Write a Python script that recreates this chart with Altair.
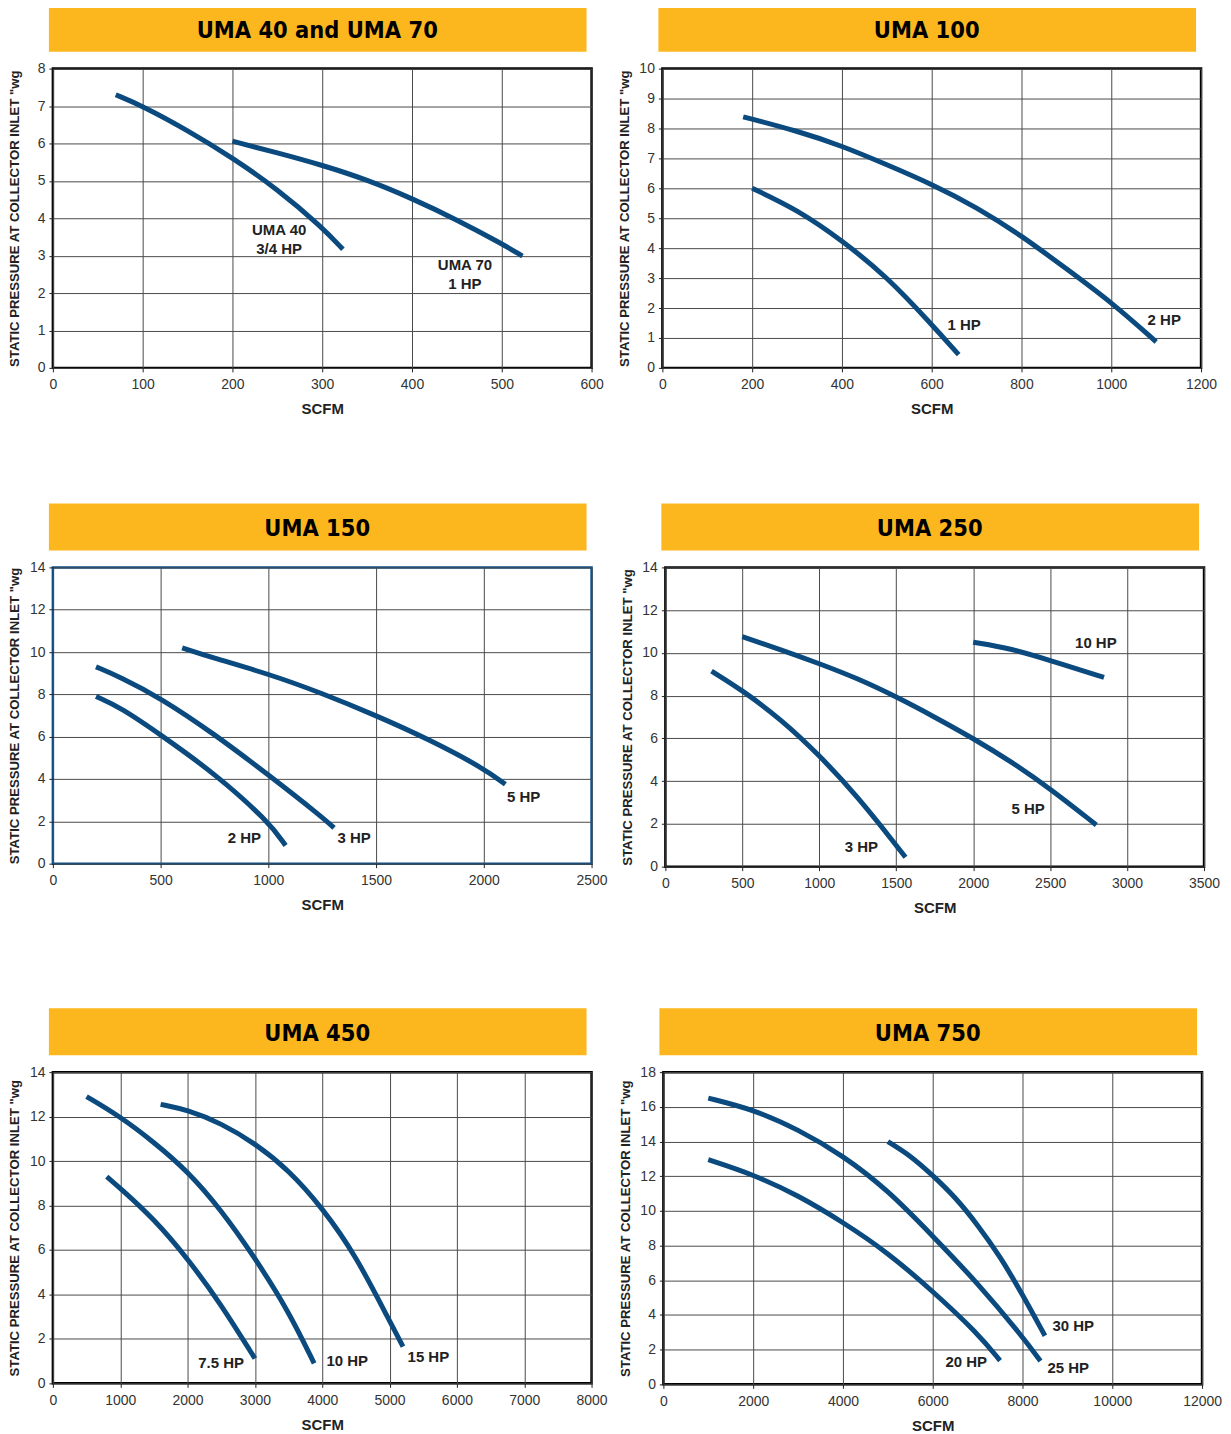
import altair as alt
import pandas as pd

# ---------------- data ----------------
# UMA 40 and UMA 70
uma40_x = [70, 100, 150, 200, 250, 300, 323]
uma40_y = [7.3, 7.0, 6.35, 5.62, 4.78, 3.76, 3.17]
uma70_x = [200, 250, 300, 350, 400, 450, 500, 523]
uma70_y = [6.06, 5.75, 5.42, 5.03, 4.53, 3.96, 3.32, 2.99]

# UMA 100
u100_1hp_x = [200, 300, 400, 500, 600, 660]
u100_1hp_y = [6.0, 5.29, 4.26, 3.05, 1.45, 0.44]
u100_2hp_x = [180, 300, 400, 500, 600, 700, 800, 900, 1000, 1100]
u100_2hp_y = [8.39, 7.92, 7.42, 6.79, 6.14, 5.37, 4.42, 3.31, 2.2, 0.87]

# UMA 150
u150_2hp_x = [200, 314, 500, 750, 1000, 1080]
u150_2hp_y = [7.9, 7.38, 6.09, 4.27, 2.0, 0.86]
u150_3hp_x = [200, 314, 500, 750, 1000, 1250, 1305]
u150_3hp_y = [9.3, 8.81, 7.83, 6.12, 4.2, 2.2, 1.69]
u150_5hp_x = [600, 750, 1000, 1250, 1500, 1750, 2000, 2100]
u150_5hp_y = [10.2, 9.7, 8.97, 8.05, 7.0, 5.85, 4.5, 3.75]

# UMA 250
u250_3hp_x = [300, 500, 750, 1000, 1250, 1500, 1560]
u250_3hp_y = [9.15, 8.25, 6.9, 5.22, 3.27, 1.0, 0.44]
u250_5hp_x = [500, 750, 1000, 1250, 1500, 1750, 2000, 2250, 2500, 2800]
u250_5hp_y = [10.76, 10.15, 9.5, 8.8, 7.95, 7.0, 6.0, 4.9, 3.65, 1.95]
u250_10hp_x = [2000, 2250, 2500, 2850]
u250_10hp_y = [10.5, 10.2, 9.65, 8.85]

# UMA 450
u450_75hp_x = [800, 1000, 1500, 2000, 2500, 3000]
u450_75hp_y = [9.3, 8.78, 7.4, 5.62, 3.55, 1.12]
u450_10hp_x = [500, 1000, 1500, 2000, 2500, 3000, 3500, 3880]
u450_10hp_y = [12.9, 12.0, 10.85, 9.55, 7.8, 5.65, 3.25, 0.9]
u450_15hp_x = [1600, 2000, 2500, 3000, 3500, 4000, 4500, 5000, 5200]
u450_15hp_y = [12.55, 12.3, 11.7, 10.8, 9.6, 7.9, 5.75, 2.8, 1.65]

# UMA 750
u750_20hp_x = [1000, 2000, 3000, 4000, 5000, 6000, 7000, 7500]
u750_20hp_y = [12.95, 12.1, 10.9, 9.35, 7.6, 5.37, 2.95, 1.37]
u750_25hp_x = [1000, 2000, 3000, 4000, 5000, 6000, 7000, 8000, 8400]
u750_25hp_y = [16.5, 15.85, 14.7, 13.2, 11.2, 8.55, 5.85, 2.75, 1.35]
u750_30hp_x = [5000, 5500, 6000, 6500, 7000, 7500, 8000, 8500]
u750_30hp_y = [14.0, 13.2, 12.05, 10.8, 9.2, 7.38, 5.18, 2.8]

# curve labels: (text, x, y)
labels_40_70 = [("UMA 40", 252, 3.69), ("3/4 HP", 252, 3.19),
                ("UMA 70", 459, 2.74), ("1 HP", 459, 2.24)]
labels_100 = [("1 HP", 672, 1.43), ("2 HP", 1118, 1.6)]
labels_150 = [("5 HP", 2185, 3.13), ("3 HP", 1398, 1.23), ("2 HP", 889, 1.19)]
labels_250 = [("10 HP", 2797, 10.45), ("5 HP", 2357, 2.7), ("3 HP", 1274, 0.93)]
labels_450 = [("7.5 HP", 2498, 0.9), ("10 HP", 4372, 0.99), ("15 HP", 5576, 1.17)]
labels_750 = [("30 HP", 9131, 3.38), ("25 HP", 9020, 0.92), ("20 HP", 6748, 1.26)]

# axis ticks
ticks_x_40 = [0, 100, 200, 300, 400, 500, 600]
ticks_y_40 = [0, 1, 2, 3, 4, 5, 6, 7, 8]
ticks_x_100 = [0, 200, 400, 600, 800, 1000, 1200]
ticks_y_100 = [0, 1, 2, 3, 4, 5, 6, 7, 8, 9, 10]
ticks_x_150 = [0, 500, 1000, 1500, 2000, 2500]
ticks_x_250 = [0, 500, 1000, 1500, 2000, 2500, 3000, 3500]
ticks_y_14 = [0, 2, 4, 6, 8, 10, 12, 14]
ticks_x_450 = [0, 1000, 2000, 3000, 4000, 5000, 6000, 7000, 8000]
ticks_x_750 = [0, 2000, 4000, 6000, 8000, 10000, 12000]
ticks_y_750 = [0, 2, 4, 6, 8, 10, 12, 14, 16, 18]

titles = ["UMA 40 and UMA 70", "UMA 100", "UMA 150", "UMA 250", "UMA 450", "UMA 750"]

# ---------------- style ----------------
LINE = "#0b4a7e"
BANNER = "#FDB71E"
BASE_FONT = "Liberation Sans, Arial, sans-serif"
TITLE_FONT = "DejaVu Sans Condensed, sans-serif"
Y_TITLE = 'STATIC PRESSURE AT COLLECTOR INLET "wg'
W = 540


def panel(title, series, labels, xdom, xticks, ydom, yticks, h, border="black"):
    rows = []
    for name, xs, ys in series:
        for i, (a, b) in enumerate(zip(xs, ys)):
            rows.append({"series": name, "x": a, "y": b, "order": i})
    df = pd.DataFrame(rows)
    ldf = pd.DataFrame(labels, columns=["text", "x", "y"])
    one = pd.DataFrame({"k": [0]})

    X = alt.X("x:Q", scale=alt.Scale(domain=xdom, nice=False, zero=False),
              axis=alt.Axis(values=xticks, title="SCFM", format="d"))
    Y = alt.Y("y:Q", scale=alt.Scale(domain=ydom, nice=False, zero=False),
              axis=alt.Axis(values=yticks, title=Y_TITLE, format="d"))

    banner = alt.Chart(one).mark_rect(color=BANNER).encode(
        x=alt.value(-4), x2=alt.value(535), y=alt.value(-64), y2=alt.value(-17))
    btext = alt.Chart(one).mark_text(
        text=title, font=TITLE_FONT, fontSize=23.5, fontWeight="bold",
        color="#000", baseline="middle", align="center").encode(
        x=alt.value(265), y=alt.value(-38))
    lines = alt.Chart(df).mark_line(
        color=LINE, strokeWidth=5, interpolate="basis", strokeCap="butt").encode(
        x=X, y=Y, detail="series:N", order="order:Q")
    texts = alt.Chart(ldf).mark_text(
        font=BASE_FONT, fontSize=15, fontWeight="bold", color="#222",
        align="center", baseline="middle").encode(x=X, y=Y, text="text:N")
    return alt.layer(banner, btext, lines, texts).properties(
        width=W, height=h,
        view=alt.ViewBackground(stroke=border, strokeWidth=2.5))


p1 = panel(titles[0], [("UMA 40", uma40_x, uma40_y), ("UMA 70", uma70_x, uma70_y)],
           labels_40_70, [0, 600], ticks_x_40, [0, 8], ticks_y_40, 300)
p2 = panel(titles[1], [("1 HP", u100_1hp_x, u100_1hp_y), ("2 HP", u100_2hp_x, u100_2hp_y)],
           labels_100, [0, 1200], ticks_x_100, [0, 10], ticks_y_100, 300)
p3 = panel(titles[2], [("2 HP", u150_2hp_x, u150_2hp_y), ("3 HP", u150_3hp_x, u150_3hp_y),
                       ("5 HP", u150_5hp_x, u150_5hp_y)],
           labels_150, [0, 2500], ticks_x_150, [0, 14], ticks_y_14, 297, border="#0b4f8a")
p4 = panel(titles[3], [("3 HP", u250_3hp_x, u250_3hp_y), ("5 HP", u250_5hp_x, u250_5hp_y),
                       ("10 HP", u250_10hp_x, u250_10hp_y)],
           labels_250, [0, 3500], ticks_x_250, [0, 14], ticks_y_14, 300)
p5 = panel(titles[4], [("7.5 HP", u450_75hp_x, u450_75hp_y), ("10 HP", u450_10hp_x, u450_10hp_y),
                       ("15 HP", u450_15hp_x, u450_15hp_y)],
           labels_450, [0, 8000], ticks_x_450, [0, 14], ticks_y_14, 312)
p6 = panel(titles[5], [("20 HP", u750_20hp_x, u750_20hp_y), ("25 HP", u750_25hp_x, u750_25hp_y),
                       ("30 HP", u750_30hp_x, u750_30hp_y)],
           labels_750, [0, 12000], ticks_x_750, [0, 18], ticks_y_750, 313)

row1 = alt.hconcat(p1, p2, spacing=71, bounds="flush")
row2 = alt.hconcat(p3, p4, spacing=74, bounds="flush")
row3 = alt.hconcat(p5, p6, spacing=72, bounds="flush")

chart = alt.vconcat(
    row1,
    alt.vconcat(row2, row3, spacing=506, bounds="flush"),
    spacing=500, bounds="flush",
).properties(
    padding={"left": -2, "top": -7, "right": 0, "bottom": 0}
).configure_view(
    stroke="black", strokeWidth=2.5
).configure_axis(
    labelFont=BASE_FONT, labelFontSize=14, labelColor="#333",
    tickSize=4, tickColor="#222", domain=False,
    gridColor="#4a4a4a", gridWidth=1, gridOpacity=1,
    titleFont=BASE_FONT, titleColor="#222", titleFontWeight="bold",
    labelFlush=False,
).configure_axisX(
    labelPadding=6, titleFontSize=15, titlePadding=10,
).configure_axisY(
    labelPadding=4, titleFontSize=13.2, titleX=-31,
)

chart.save("out.html", embed_options={"renderer": "svg", "actions": False})
